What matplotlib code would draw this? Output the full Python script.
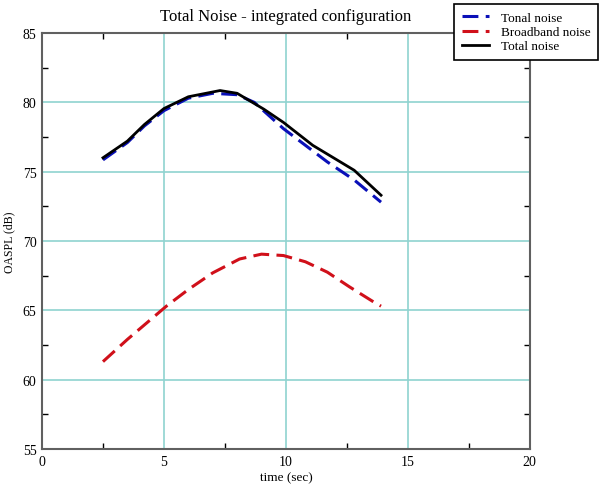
import matplotlib
matplotlib.use('Agg')
import matplotlib.pyplot as plt
import numpy as np

# values
t_tonal = [2.5, 3.5, 4.2, 5.0, 6.0, 7.0, 8.0, 8.7, 9.9, 10.8, 11.7, 12.8, 13.9]
tonal = [75.85, 77.1, 78.3, 79.4, 80.3, 80.65, 80.55, 80.0, 78.1, 76.9, 75.7, 74.4, 72.8]

t_broad = [2.5, 3.5, 4.3, 5.1, 6.0, 7.0, 8.1, 9.0, 9.9, 10.8, 11.7, 12.6, 13.6, 13.9]
broad = [61.3, 62.9, 64.1, 65.3, 66.5, 67.7, 68.7, 69.05, 68.95, 68.5, 67.75, 66.7, 65.6, 65.3]

t_total = [2.5, 3.5, 4.2, 5.0, 6.0, 7.3, 8.0, 9.1, 9.9, 11.1, 12.8, 13.9]
total = [76.0, 77.2, 78.4, 79.55, 80.4, 80.85, 80.65, 79.5, 78.55, 76.9, 75.1, 73.3]

plt.rcParams['font.family'] = ['Liberation Serif', 'DejaVu Serif']

fig = plt.figure(figsize=(6, 4.89), dpi=100)
ax = fig.add_axes([0.07, 0.0798, 0.813, 0.8507])

dash = (0, (5.2, 2.4))
ax.plot(t_tonal, tonal, color='#0a10b8', lw=2.2, ls=dash, label='Tonal noise')
ax.plot(t_broad, broad, color='#d0101a', lw=2.2, ls=dash, label='Broadband noise')
ax.plot(t_total, total, color='black', lw=2.0, label='Total noise')

ax.set_xlim(0, 20)
ax.set_ylim(55, 85)
ax.set_xticks([0, 5, 10, 15, 20])
ax.set_yticks([55, 60, 65, 70, 75, 80, 85])
ax.set_xticks(np.arange(2.5, 20, 5), minor=True)
ax.set_yticks(np.arange(57.5, 85, 5), minor=True)
ax.grid(True, which='major', color='#8fd3d0', lw=1.2)
ax.tick_params(which='both', direction='in', top=True, right=True, labelsize=10)
ax.tick_params(which='major', length=0, pad=4)
ax.tick_params(which='minor', length=4, width=1, color='black')
for s in ax.spines.values():
    s.set_color('#606060')
    s.set_linewidth(1.5)

ax.set_title('Total Noise - integrated configuration', fontsize=12, pad=9)
ax.set_xlabel('time (sec)', fontsize=9.5, labelpad=3)
ax.set_ylabel('OASPL (dB)', fontsize=8.5, labelpad=5)

leg = fig.legend(loc='upper right', bbox_to_anchor=(0.997, 0.99), fontsize=9.5,
                 fancybox=False, framealpha=1, edgecolor='black', handlelength=2.0,
                 borderpad=0.6, labelspacing=0.14, handletextpad=0.9, borderaxespad=0)
leg.get_frame().set_linewidth(1.2)

fig.savefig('out.png', dpi=100)
